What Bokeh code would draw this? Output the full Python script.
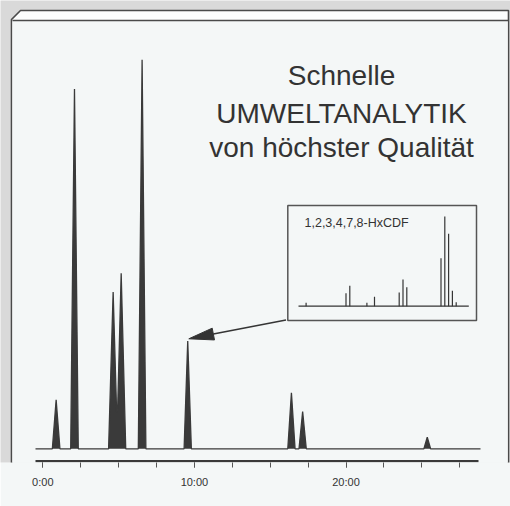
import numpy as np
from bokeh.plotting import figure
from bokeh.models import Range1d, FixedTicker
from bokeh.core.properties import value
from bokeh.embed import file_html
from bokeh.resources import INLINE

# ---------------- data ----------------
# chromatogram peaks (retention time in min, height in % of largest peak, base width in min)
peak_times = [0.88, 2.09, 4.64, 5.17, 6.55, 9.56, 16.40, 17.14, 25.36]
peak_heights = [12.6, 92.5, 40.3, 45.1, 100.0, 27.7, 14.4, 9.6, 3.0]
peak_widths = [0.50, 0.50, 0.60, 0.60, 0.50, 0.48, 0.48, 0.48, 0.44]

time_major_ticks = [0, 10, 20]
time_minor_ticks = [0, 2.5, 5, 7.5, 10, 12.5, 15, 17.5, 20, 22.5, 25, 27.5]
time_tick_labels = ["0:00", "10:00", "20:00"]

# inset mass spectrum (m/z, relative intensity %)
ms_mz = [301, 322, 324, 333, 337, 350, 352, 354, 372, 374, 376, 378, 380]
ms_intensity = [3.8, 14.5, 22.7, 3.8, 10.5, 15.3, 29.8, 21.2, 53.5, 100.0, 80.7, 17.2, 4.5]
inset_label = "1,2,3,4,7,8-HxCDF"

title_lines = ["Schnelle", "UMWELTANALYTIK", "von höchster Qualität"]

# ---------------- layout (pixel geometry of the picture) ----------------
W, H = 510, 506
OFF = 0
FRAME_BOTTOM = 462           # image y of plot-frame bottom
T0_PX, PX_PER_MIN = 42.3, 15.16
BASE_PY, PX_PER_UNIT = 448.3, 3.89
MZ_REF, MZ_REF_PX, PX_PER_AMU = 374.0, 444.3, 1.9
MS_BASE_PY, PX_PER_INT = 305.7, 0.897

def tx(px):  # image x -> minutes
    return (px - T0_PX) / PX_PER_MIN

def ty(py):  # image y -> signal units
    return (BASE_PY - py) / PX_PER_UNIT

def mx(px):  # image x -> m/z
    return MZ_REF + (px - MZ_REF_PX) / PX_PER_AMU

def my(py):  # image y -> intensity
    return (MS_BASE_PY - py) / PX_PER_INT

PANEL = "#f4f7f7"
GREY = "#d9d9d9"
EDGE = "#4a4a4a"
INK = "#353535"

p = figure(width=W, height=H,
           x_range=Range1d(tx(OFF), tx(OFF + W)),
           y_range=Range1d(ty(FRAME_BOTTOM), ty(OFF)),
           output_backend="svg", toolbar_location=None,
           x_axis_location="below", y_axis_location=None,
           min_border_left=0, min_border_right=0, min_border_top=0,
           min_border_bottom=H - FRAME_BOTTOM,
           background_fill_color=GREY, border_fill_color=PANEL,
           outline_line_color=None)
p.grid.visible = False
p.extra_x_ranges = {"ms": Range1d(mx(OFF), mx(OFF + W))}
p.extra_y_ranges = {"ms": Range1d(my(FRAME_BOTTOM), my(OFF))}

# ---------------- panel frame ----------------
p.patch(x=[tx(11), tx(11), tx(20), tx(508), tx(508)],
        y=[ty(800), ty(19), ty(10), ty(10), ty(800)],
        fill_color="#fcfdfd", line_color=EDGE, line_width=1.6)
p.quad(left=tx(12), right=tx(507.2), top=ty(20), bottom=ty(800),
       fill_color=PANEL, line_color=None)
p.segment(x0=tx(12), y0=ty(20), x1=tx(508), y1=ty(20), line_color=EDGE, line_width=1.6)

# ---------------- chromatogram ----------------
t = np.array(peak_times)
h = np.array(peak_heights)
w = np.array(peak_widths)
t_start, t_end = tx(35), tx(480)
bp = np.unique(np.concatenate([[t_start, t_end], t - w / 2, t, t + w / 2]))
sig = np.zeros_like(bp)
for ti, hi, wi in zip(t, h, w):
    sig += hi * np.clip(1 - np.abs(bp - ti) / (wi / 2), 0, None)

p.varea(x=bp, y1=np.zeros_like(bp), y2=sig, fill_color="#3a3a3a")
p.line(x=bp, y=sig, line_color="#3a3a3a", line_width=1.3)

# time axis line (drawn as data line, Bokeh axis provides ticks/labels)
p.segment(x0=tx(35), y0=ty(460.7), x1=tx(478), y1=ty(460.7), line_color="#3a3a3a", line_width=2.2)

ax = p.xaxis[0]
ax.ticker = FixedTicker(ticks=time_major_ticks, minor_ticks=time_minor_ticks)
ax.major_label_overrides = dict(zip(time_major_ticks, time_tick_labels))
ax.axis_line_color = None
ax.major_tick_in = 0
ax.major_tick_out = 5
ax.minor_tick_in = 0
ax.minor_tick_out = 5
ax.major_tick_line_color = "#555555"
ax.minor_tick_line_color = "#555555"
ax.major_label_text_font = "Liberation Sans"
ax.major_label_text_font_size = "11px"
ax.major_label_text_color = "#333333"
ax.major_label_standoff = 8

# ---------------- title ----------------
p.text(x=[tx(341)] * 3, y=[ty(75), ty(112.5), ty(147)], text=title_lines,
       text_font=value("Liberation Sans"), text_font_size="28px",
       text_align="center", text_baseline="alphabetic", text_color="#333333")

# ---------------- inset mass spectrum ----------------
p.quad(left=mx(287.3), right=mx(476), top=my(205), bottom=my(320),
       fill_color=None, line_color="#555555", line_width=1.5,
       x_range_name="ms", y_range_name="ms")
p.segment(x0=mx(298), y0=0, x1=mx(468.3), y1=0, line_color=INK, line_width=1.2,
          x_range_name="ms", y_range_name="ms")
p.segment(x0=ms_mz, y0=[0] * len(ms_mz), x1=ms_mz, y1=ms_intensity,
          line_color=INK, line_width=1.2, x_range_name="ms", y_range_name="ms")
p.text(x=[mx(304)], y=[my(222)], text=[inset_label],
       text_font=value("Liberation Sans"), text_font_size="12.5px",
       text_align="left", text_baseline="middle", text_color="#333333",
       x_range_name="ms", y_range_name="ms")

# ---------------- arrow from inset to peak ----------------
tail = np.array([285.5, 319.5])
tip = np.array([188.3, 338.3])
d = tip - tail
u = d / np.hypot(*d)
nrm = np.array([-u[1], u[0]])
head_len, head_half = 25.0, 6.0
base = tip - head_len * u
c1 = base + head_half * nrm
c2 = base - head_half * nrm
p.segment(x0=tx(tail[0]), y0=ty(tail[1]), x1=tx(base[0]), y1=ty(base[1]),
          line_color=INK, line_width=1.4)
p.patch(x=[tx(tip[0]), tx(c1[0]), tx(c2[0])], y=[ty(tip[1]), ty(c1[1]), ty(c2[1])],
        fill_color="#333333", line_color="#333333", line_width=1)

open("out.html", "w").write(file_html(p, INLINE))
